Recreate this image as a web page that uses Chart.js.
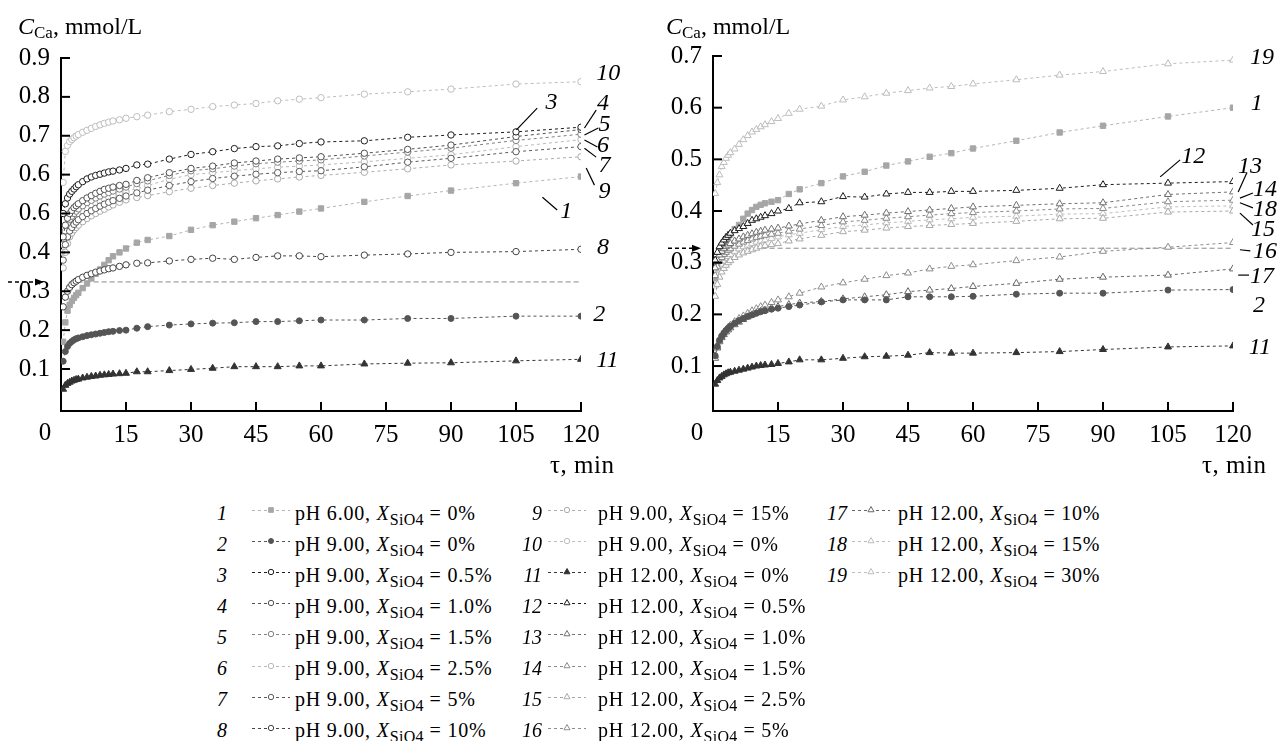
<!DOCTYPE html>
<html>
<head>
<meta charset="utf-8">
<script src="https://cdn.jsdelivr.net/npm/chart.js@4.4.1/dist/chart.umd.min.js"></script>
<style>
body{margin:0;background:#fff;}
#wrap{position:relative;width:1280px;height:741px;overflow:hidden;font-family:"Liberation Serif","Times New Roman",serif;color:#000;background:#fff}
canvas.panel{position:absolute;top:0}
.ttl{position:absolute;font-size:24px;line-height:24px;white-space:nowrap}
.ttl sub{font-size:17px;vertical-align:baseline;position:relative;top:4px}
.tau{position:absolute;font-size:25px;line-height:24px;white-space:nowrap;letter-spacing:0.5px}
.lg{position:absolute;font-size:20px;line-height:20px;white-space:nowrap;letter-spacing:0.8px}
.lg sub{font-size:16px;vertical-align:baseline;position:relative;top:5px;letter-spacing:0.3px}
.num{position:absolute;font-style:italic;font-size:20px;line-height:20px;text-align:right;width:40px;white-space:nowrap}
canvas.smp{position:absolute}
</style>
</head>
<body>
<div id="wrap">
  <canvas id="left" class="panel" width="640" height="480" style="left:0"></canvas>
  <canvas id="right" class="panel" width="640" height="480" style="left:640px"></canvas>
  <div class="ttl" style="left:18px;top:14px"><i>C</i><sub>Ca</sub>, mmol/L</div>
  <div class="ttl" style="left:666px;top:14px"><i>C</i><sub>Ca</sub>, mmol/L</div>
  <div class="tau" style="left:550px;top:453px">τ, min</div>
  <div class="tau" style="left:1202px;top:453px">τ, min</div>
  <div id="legend"></div>
</div>
<script>
// sampling times, min
const times=[0.5,1,1.5,2,2.5,3,3.5,4,5,6,7,8,9,10,11,12,13.5,15,17.5,20,25,30,35,40,45,50,55,60,70,80,90,105,120];
const xTickLabels=['0','15','30','45','60','75','90','105','120'];
const leftYLabels=['0.1','0.2','0.3','0.4','0.6','0.6','0.7','0.8','0.9'];
const rightYLabels=['0.1','0.2','0.3','0.4','0.5','0.6','0.7'];

// left panel
const s1=[0.17,0.22,0.25,0.265,0.275,0.283,0.29,0.296,0.308,0.32,0.333,0.345,0.356,0.368,0.38,0.39,0.40,0.41,0.425,0.432,0.442,0.458,0.470,0.479,0.488,0.496,0.505,0.513,0.530,0.545,0.559,0.578,0.595];
const s2=[0.12,0.145,0.158,0.166,0.171,0.175,0.178,0.18,0.183,0.186,0.188,0.19,0.192,0.194,0.196,0.197,0.199,0.200,0.205,0.209,0.213,0.216,0.218,0.219,0.222,0.222,0.224,0.226,0.226,0.23,0.23,0.236,0.236];
const s3=[0.50,0.525,0.54,0.55,0.557,0.563,0.569,0.574,0.582,0.589,0.594,0.598,0.601,0.604,0.607,0.609,0.612,0.616,0.625,0.627,0.640,0.652,0.659,0.667,0.672,0.674,0.680,0.684,0.687,0.696,0.702,0.710,0.722];
const s4=[0.44,0.47,0.488,0.50,0.508,0.515,0.52,0.525,0.533,0.54,0.546,0.552,0.557,0.562,0.565,0.568,0.572,0.575,0.585,0.592,0.605,0.616,0.622,0.63,0.635,0.64,0.643,0.646,0.655,0.665,0.676,0.698,0.716];
const s5=[0.42,0.455,0.472,0.485,0.493,0.50,0.506,0.512,0.52,0.528,0.534,0.54,0.545,0.55,0.554,0.558,0.563,0.568,0.577,0.584,0.598,0.61,0.615,0.622,0.628,0.632,0.635,0.638,0.648,0.658,0.668,0.688,0.704];
const s6=[0.40,0.44,0.457,0.47,0.479,0.487,0.493,0.498,0.507,0.515,0.522,0.528,0.533,0.538,0.542,0.546,0.551,0.555,0.565,0.572,0.588,0.600,0.605,0.61,0.615,0.619,0.622,0.625,0.633,0.642,0.651,0.672,0.690];
const s7=[0.38,0.42,0.44,0.455,0.464,0.472,0.478,0.484,0.492,0.50,0.507,0.513,0.519,0.524,0.529,0.533,0.539,0.545,0.553,0.56,0.572,0.582,0.59,0.596,0.601,0.605,0.608,0.610,0.62,0.632,0.642,0.659,0.672];
const s8=[0.26,0.285,0.30,0.31,0.317,0.322,0.326,0.33,0.336,0.341,0.345,0.349,0.352,0.355,0.358,0.36,0.364,0.368,0.372,0.373,0.378,0.382,0.385,0.382,0.387,0.391,0.391,0.389,0.393,0.396,0.40,0.402,0.408];
const s9=[0.36,0.40,0.423,0.44,0.45,0.458,0.464,0.47,0.479,0.487,0.494,0.50,0.506,0.511,0.517,0.522,0.529,0.535,0.541,0.546,0.556,0.565,0.572,0.578,0.584,0.589,0.594,0.598,0.606,0.615,0.625,0.635,0.646];
const s10=[0.58,0.66,0.675,0.685,0.69,0.695,0.699,0.703,0.709,0.714,0.719,0.724,0.728,0.732,0.735,0.738,0.741,0.745,0.749,0.753,0.762,0.768,0.775,0.779,0.783,0.790,0.794,0.798,0.807,0.813,0.820,0.833,0.839];
const s11=[0.048,0.058,0.063,0.066,0.069,0.071,0.073,0.074,0.077,0.079,0.081,0.082,0.084,0.085,0.086,0.087,0.088,0.089,0.093,0.093,0.096,0.099,0.102,0.106,0.106,0.106,0.108,0.108,0.113,0.115,0.116,0.121,0.125];
const refLeft=[0.324,0.324];

// right panel
const s1b=[0.27,0.30,0.318,0.33,0.338,0.345,0.35,0.355,0.365,0.373,0.385,0.395,0.402,0.408,0.412,0.415,0.418,0.421,0.433,0.442,0.454,0.467,0.476,0.488,0.496,0.505,0.512,0.521,0.536,0.552,0.565,0.583,0.600];
const s2b=[0.12,0.138,0.15,0.158,0.164,0.169,0.173,0.177,0.183,0.188,0.192,0.196,0.199,0.202,0.205,0.207,0.21,0.212,0.215,0.218,0.224,0.228,0.228,0.228,0.234,0.234,0.234,0.235,0.239,0.241,0.241,0.247,0.248];
const s11b=[0.065,0.072,0.077,0.08,0.083,0.085,0.087,0.088,0.09,0.092,0.094,0.096,0.098,0.1,0.101,0.102,0.103,0.105,0.108,0.112,0.112,0.115,0.118,0.119,0.121,0.126,0.125,0.125,0.126,0.128,0.132,0.137,0.139];
const s12=[0.305,0.32,0.331,0.338,0.344,0.349,0.353,0.357,0.362,0.366,0.370,0.376,0.382,0.385,0.388,0.391,0.395,0.400,0.405,0.416,0.418,0.428,0.427,0.433,0.436,0.436,0.438,0.438,0.440,0.444,0.451,0.454,0.457];
const s13=[0.29,0.305,0.315,0.322,0.327,0.331,0.334,0.337,0.342,0.346,0.350,0.353,0.356,0.359,0.361,0.363,0.365,0.367,0.371,0.375,0.382,0.389,0.392,0.396,0.399,0.402,0.405,0.408,0.411,0.414,0.416,0.432,0.437];
const s14=[0.275,0.292,0.303,0.31,0.316,0.32,0.324,0.327,0.332,0.336,0.34,0.343,0.346,0.349,0.351,0.353,0.355,0.357,0.361,0.365,0.372,0.379,0.382,0.386,0.389,0.392,0.395,0.397,0.400,0.404,0.405,0.418,0.421];
const s15=[0.235,0.258,0.272,0.282,0.289,0.295,0.3,0.304,0.31,0.315,0.319,0.322,0.325,0.328,0.331,0.333,0.335,0.337,0.342,0.346,0.353,0.360,0.363,0.367,0.370,0.372,0.374,0.376,0.380,0.385,0.386,0.398,0.400];
const s16=[0.12,0.138,0.15,0.158,0.165,0.17,0.175,0.179,0.186,0.192,0.197,0.202,0.207,0.211,0.215,0.218,0.223,0.228,0.234,0.241,0.253,0.261,0.268,0.275,0.28,0.288,0.293,0.296,0.304,0.311,0.322,0.330,0.339];
const s17=[0.115,0.135,0.147,0.155,0.161,0.166,0.17,0.174,0.18,0.185,0.19,0.195,0.199,0.203,0.206,0.208,0.212,0.215,0.219,0.222,0.225,0.23,0.234,0.238,0.244,0.247,0.25,0.254,0.26,0.268,0.272,0.276,0.288];
const s18=[0.255,0.275,0.288,0.297,0.303,0.308,0.312,0.316,0.322,0.327,0.331,0.334,0.337,0.34,0.342,0.344,0.347,0.350,0.354,0.357,0.364,0.370,0.373,0.377,0.380,0.383,0.385,0.388,0.390,0.394,0.395,0.408,0.410];
const s19=[0.434,0.455,0.47,0.486,0.494,0.502,0.508,0.513,0.52,0.529,0.538,0.546,0.553,0.558,0.563,0.567,0.573,0.579,0.589,0.597,0.603,0.615,0.621,0.628,0.633,0.638,0.641,0.646,0.654,0.663,0.670,0.685,0.692];
const refRight=[0.328,0.328];
const refX=[2,120];

// legend text
const legendPH=['6.00','9.00','9.00','9.00','9.00','9.00','9.00','9.00','9.00','9.00','12.00','12.00','12.00','12.00','12.00','12.00','12.00','12.00','12.00'];
const legendX=['0','0','0.5','1.0','1.5','2.5','5','10','15','0','0','0.5','1.0','1.5','2.5','5','10','15','30'];

// marker / line styles per curve number
const st={
 1:{c:'#a6a6a6',p:'rect',f:1,r:3.8,l:'#b4b4b4'},
 2:{c:'#555',p:'circle',f:1,r:3,l:'#555'},
 3:{c:'#1c1c1c',p:'circle',r:3.2,l:'#1c1c1c'},
 4:{c:'#505050',p:'circle',r:3.2,l:'#505050'},
 5:{c:'#808080',p:'circle',r:3.2,l:'#808080'},
 6:{c:'#b8b8b8',p:'circle',r:3.2,l:'#b8b8b8'},
 7:{c:'#5a5a5a',p:'circle',r:3.2,l:'#5a5a5a'},
 8:{c:'#444',p:'circle',r:3.2,l:'#444'},
 9:{c:'#ababab',p:'circle',r:3.2,l:'#ababab'},
 10:{c:'#bdbdbd',p:'circle',r:3.2,l:'#bdbdbd'},
 11:{c:'#333',p:'triangle',f:1,r:4,l:'#333'},
 12:{c:'#1c1c1c',p:'triangle',r:4,l:'#1c1c1c'},
 13:{c:'#707070',p:'triangle',r:4,l:'#707070'},
 14:{c:'#8a8a8a',p:'triangle',r:4,l:'#8a8a8a'},
 15:{c:'#a8a8a8',p:'triangle',r:4,l:'#a8a8a8'},
 16:{c:'#8c8c8c',p:'triangle',r:4,l:'#8c8c8c'},
 17:{c:'#666',p:'triangle',r:4,l:'#666'},
 18:{c:'#bdbdbd',p:'triangle',r:4,l:'#bdbdbd'},
 19:{c:'#bdbdbd',p:'triangle',r:4,l:'#bdbdbd'}
};

// curve number labels (data coords) and leader lines
const leftLabels=[['10',126.3,0.859],['3',113.2,0.784],['4',125.1,0.782],['5',125.4,0.728],['6',125.1,0.674],['7',125.4,0.622],['9',125.4,0.555],['1',116.6,0.504],['8',125.1,0.411],['2',124.2,0.241],['11',126.1,0.121]];
const leftLeaders=[[109.9,0.771,105.1,0.715],[123.5,0.766,120.8,0.72],[124,0.72,120.8,0.702],[123.8,0.671,120.8,0.689],[123.5,0.645,120.8,0.668],[123.1,0.573,121.2,0.617],[114.5,0.509,111.1,0.542]];
const rightLabels=[['19',126.7,0.696],['1',125.5,0.607],['12',110.8,0.505],['13',123.9,0.485],['14',127.4,0.441],['18',127.4,0.402],['15',126.9,0.363],['16',127.4,0.321],['17',126.7,0.273],['2',126,0.216],['11',126.2,0.135]];
const rightLeaders=[[107.8,0.499,103.2,0.466],[123.2,0.474,121.2,0.437],[124.6,0.435,121.6,0.425],[124.6,0.406,121.6,0.416],[124.6,0.373,121.6,0.396],[121.6,0.325,124,0.323],[121.2,0.276,123.7,0.276]];

const serif='"Liberation Serif","Times New Roman",serif';

const mk=(vals,n)=>{
  const s=st[n];
  return {
    data:times.map((t,i)=>({x:t,y:vals[i]})),
    borderColor:s.l, borderWidth:1, borderDash:[3,3], tension:0, fill:false,
    pointStyle:s.p, pointRadius:s.r, pointBorderWidth:1,
    pointBorderColor:s.c, pointBackgroundColor:s.f?s.c:'#fff'
  };
};
const refSet=(lv)=>({
  data:refX.map((x,i)=>({x:x,y:lv[i]})),
  borderColor:'#8a8a8a', borderWidth:1, borderDash:[5,3], pointRadius:0, fill:false
});

const decor={
  id:'decor',
  afterDraw(chart,args,o){
    const {ctx,scales:{x,y}}=chart;
    ctx.save();
    ctx.strokeStyle='#000'; ctx.lineWidth=2; ctx.setLineDash([]);
    // inward ticks
    x.ticks.forEach(t=>{
      if(t.value===0) return;
      const px=x.getPixelForValue(t.value);
      ctx.beginPath(); ctx.moveTo(px,x.top); ctx.lineTo(px,x.top-9); ctx.stroke();
    });
    y.ticks.forEach(t=>{
      const k=Math.round(t.value*10);
      if(k<1||Math.abs(t.value*10-k)>1e-6) return;
      const py=y.getPixelForValue(t.value);
      ctx.beginPath(); ctx.moveTo(y.right,py); ctx.lineTo(y.right+9,py); ctx.stroke();
    });
    // zero label, offset to the left of the corner
    ctx.fillStyle='#000'; ctx.font='25px '+serif; ctx.textAlign='center'; ctx.textBaseline='middle';
    ctx.fillText(xTickLabels[0],x.left-16,x.top+22);
    // arrow pointing at reference level
    const ay=y.getPixelForValue(o.ref);
    ctx.lineWidth=1.4; ctx.setLineDash([4,3]);
    ctx.beginPath(); ctx.moveTo(y.right-o.a0,ay); ctx.lineTo(y.right-o.a1-7,ay); ctx.stroke();
    ctx.setLineDash([]);
    ctx.beginPath(); ctx.moveTo(y.right-o.a1,ay); ctx.lineTo(y.right-o.a1-9,ay-3.5); ctx.lineTo(y.right-o.a1-9,ay+3.5); ctx.closePath(); ctx.fill();
    // curve numbers
    ctx.font='italic 24px '+serif;
    o.labels.forEach(l=>ctx.fillText(l[0],x.getPixelForValue(l[1]),y.getPixelForValue(l[2])));
    ctx.lineWidth=1.2;
    o.leaders.forEach(l=>{
      ctx.beginPath();
      ctx.moveTo(x.getPixelForValue(l[0]),y.getPixelForValue(l[1]));
      ctx.lineTo(x.getPixelForValue(l[2]),y.getPixelForValue(l[3]));
      ctx.stroke();
    });
    ctx.restore();
  }
};

function panel(id,sets,cfg){
  return new Chart(document.getElementById(id),{
    type:'line',
    data:{datasets:sets},
    options:{
      responsive:false, animation:false, events:[],
      layout:{padding:{top:cfg.top,right:cfg.right,left:0,bottom:0}},
      plugins:{legend:{display:false},tooltip:{enabled:false},
        decor:{ref:cfg.ref,a0:cfg.a0,a1:cfg.a1,labels:cfg.labels,leaders:cfg.leaders}},
      scales:{
        x:{type:'linear',min:0,max:120,
          ticks:{stepSize:15,autoSkip:false,maxRotation:0,padding:9,color:'#000',font:{family:serif,size:25},
            callback:v=>{const i=Math.round(v/15);return (i>0&&Math.abs(v-i*15)<1e-6)?xTickLabels[i]:'';}},
          grid:{display:false,drawTicks:false},
          border:{display:true,color:'#000',width:2},
          afterFit:s=>{s.height=69;}},
        y:{type:'linear',min:cfg.ymin,max:cfg.ymax,
          ticks:{stepSize:0.1,autoSkip:false,padding:11,color:'#000',font:{family:serif,size:25},
            callback:v=>{const k=Math.round(v*10);return (k>=1&&Math.abs(v*10-k)<1e-6)?cfg.ylab[k-1]:'';}},
          grid:{display:false,drawTicks:false},
          border:{display:true,color:'#000',width:2},
          afterFit:s=>{s.width=cfg.yw;}}
      }
    },
    plugins:[decor]
  });
}

panel('left',[
  mk(s3,3),mk(s8,8),mk(s4,4),mk(s7,7),mk(s11,11),mk(s2,2),mk(s5,5),mk(s1,1),mk(s9,9),mk(s6,6),mk(s10,10),refSet(refLeft)
],{top:58,right:59,yw:61,ymin:-0.008,ymax:0.9,ylab:leftYLabels,ref:refLeft[0],a0:53,a1:17,labels:leftLabels,leaders:leftLeaders});

panel('right',[
  mk(s12,12),mk(s11b,11),mk(s2b,2),mk(s17,17),mk(s13,13),mk(s16,16),mk(s14,14),mk(s1b,1),mk(s15,15),mk(s18,18),mk(s19,19),refSet(refRight)
],{top:56,right:47,yw:73,ymin:0.013,ymax:0.7,ylab:rightYLabels,ref:refRight[0],a0:45,a1:12,labels:rightLabels,leaders:rightLeaders});

// legend
const lg=document.getElementById('legend');
const numRight=[227,542,847], smpX=[250,546,850], txtX=[295,598,898];
legendPH.forEach((ph,i)=>{
  const n=i+1, col=Math.floor(i/8), row=i%8;
  const base=520+row*31.1;
  const top=Math.round(base-17.3);
  const num=document.createElement('div');
  num.className='num'; num.style.left=(numRight[col]-40)+'px'; num.style.top=top+'px'; num.textContent=n;
  lg.appendChild(num);
  const tx=document.createElement('div');
  tx.className='lg'; tx.style.left=txtX[col]+'px'; tx.style.top=top+'px';
  tx.innerHTML='pH '+ph+', <i>X</i><sub>SiO4</sub> = '+legendX[i]+'%';
  lg.appendChild(tx);
  const c=document.createElement('canvas');
  c.className='smp'; c.width=42; c.height=14; c.style.left=smpX[col]+'px'; c.style.top=Math.round(base-17)+'px';
  lg.appendChild(c);
  const g=c.getContext('2d'), s=st[n];
  g.strokeStyle=s.l; g.lineWidth=1; g.setLineDash([3,3]);
  g.beginPath(); g.moveTo(2,7.5); g.lineTo(40,7.5); g.stroke(); g.setLineDash([]);
  g.fillStyle=s.f?s.c:'#fff'; g.strokeStyle=s.c;
  if(Chart.helpers&&Chart.helpers.drawPoint){
    Chart.helpers.drawPoint(g,{pointStyle:s.p,radius:s.r-0.5,borderWidth:1,rotation:0},21,7);
  }
});
</script>
</body>
</html>
